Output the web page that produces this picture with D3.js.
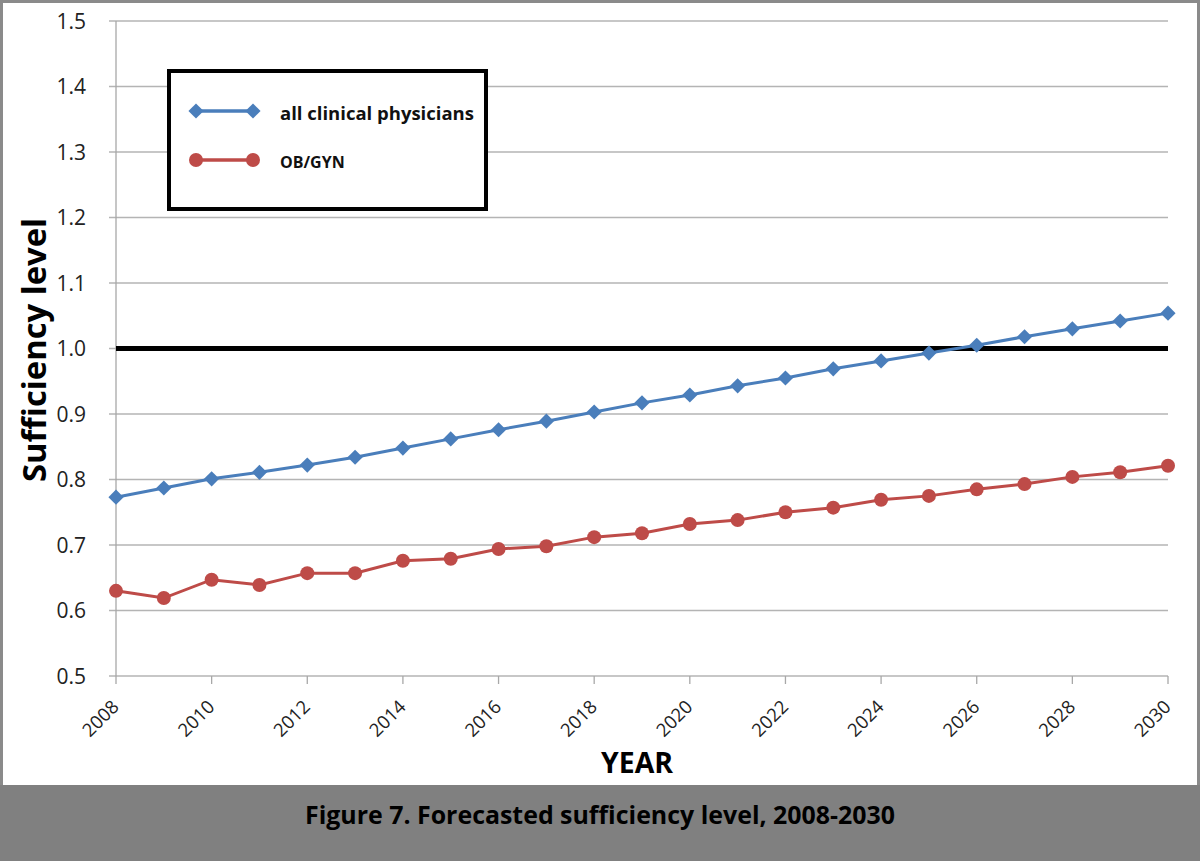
<!DOCTYPE html>
<html><head><meta charset="utf-8">
<script src="https://cdn.jsdelivr.net/npm/d3@7"></script>
<style>body{margin:0;background:#fff}svg{display:block}</style>
</head><body>
<svg id="c" width="1200" height="861"></svg>
<script>
const years = d3.range(2008, 2031);
const allClinical = [0.773,0.787,0.801,0.811,0.822,0.834,0.848,0.862,0.876,0.889,0.903,0.917,0.929,0.943,0.955,0.969,0.981,0.993,1.005,1.018,1.030,1.042,1.054];
const obgyn = [0.630,0.619,0.647,0.639,0.657,0.657,0.676,0.679,0.694,0.698,0.712,0.718,0.732,0.738,0.750,0.757,0.769,0.775,0.785,0.793,0.804,0.811,0.821];
const yTicks = [0.5,0.6,0.7,0.8,0.9,1.0,1.1,1.2,1.3,1.4,1.5];
const xTicks = [2008,2010,2012,2014,2016,2018,2020,2022,2024,2026,2028,2030];
const seriesNames = ["all clinical physicians","OB/GYN"];
const refLevel = 1.0;

const svg = d3.select("#c");
const font = "'Open Sans', 'Noto Sans', sans-serif";
const W = 1200, H = 861;

// outer frame
svg.append("rect").attr("x",1.5).attr("y",1.5).attr("width",W-3).attr("height",H-3).attr("fill","#fff").attr("stroke","#8a8a8a").attr("stroke-width",3);
svg.append("rect").attr("x",0).attr("y",785).attr("width",W).attr("height",H-785).attr("fill","#808080");

const x = d3.scaleLinear().domain([2008,2030]).range([116,1168]);
const y = d3.scaleLinear().domain([0.5,1.5]).range([676,21]);

// gridlines
svg.append("g").selectAll("line").data(yTicks).join("line")
  .attr("x1",109).attr("x2",1168).attr("y1",d=>y(d)).attr("y2",d=>y(d))
  .attr("stroke","#b4b4b4").attr("stroke-width",1.3);

// y axis line
svg.append("line").attr("x1",116).attr("x2",116).attr("y1",y(1.5)).attr("y2",y(0.5)).attr("stroke","#a8a8a8").attr("stroke-width",1.3);

// x ticks
svg.append("g").selectAll("line").data(xTicks).join("line")
  .attr("x1",d=>x(d)).attr("x2",d=>x(d)).attr("y1",676).attr("y2",684)
  .attr("stroke","#a8a8a8").attr("stroke-width",1.3);

// y tick labels
svg.append("g").selectAll("text").data(yTicks).join("text")
  .attr("x",86).attr("y",d=>y(d)).attr("dy","0.36em").attr("text-anchor","end")
  .attr("font-family",font).attr("font-size",21).attr("fill","#222")
  .text(d=>d.toFixed(1));

// x tick labels
svg.append("g").selectAll("text").data(xTicks).join("text")
  .attr("transform",d=>`translate(${x(d)+4},${708}) rotate(-45)`)
  .attr("text-anchor","end")
  .attr("font-family",font).attr("font-size",18.5).attr("fill","#222")
  .text(d=>d);

// reference line
svg.append("line").attr("x1",x(2008)).attr("x2",x(2030)).attr("y1",y(refLevel)).attr("y2",y(refLevel))
  .attr("stroke","#000").attr("stroke-width",5);

const blue = "#4a7ebb", red = "#be4b48";
const line = d3.line().x((d,i)=>x(years[i])).y(d=>y(d));

svg.append("path").datum(obgyn).attr("d",line).attr("fill","none").attr("stroke",red).attr("stroke-width",3);
svg.append("g").selectAll("circle").data(obgyn).join("circle")
  .attr("cx",(d,i)=>x(years[i])).attr("cy",d=>y(d)).attr("r",7).attr("fill",red);

svg.append("path").datum(allClinical).attr("d",line).attr("fill","none").attr("stroke",blue).attr("stroke-width",3);
const diamond = d3.symbol().type(d3.symbolSquare).size(115);
svg.append("g").selectAll("path").data(allClinical).join("path")
  .attr("transform",(d,i)=>`translate(${x(years[i])},${y(d)}) rotate(45)`)
  .attr("d",diamond).attr("fill",blue);

// legend
svg.append("rect").attr("x",169).attr("y",71).attr("width",317).attr("height",138)
  .attr("fill","#fff").attr("stroke","#000").attr("stroke-width",4);
const lg = [{name:seriesNames[0],c:blue,sym:"d",yy:111,fs:18.5},{name:seriesNames[1],c:red,sym:"c",yy:160,fs:16}];
lg.forEach(l=>{
  svg.append("line").attr("x1",196).attr("x2",253).attr("y1",l.yy).attr("y2",l.yy).attr("stroke",l.c).attr("stroke-width",3.5);
  [196,253].forEach(px=>{
    if(l.sym==="d") svg.append("path").attr("transform",`translate(${px},${l.yy}) rotate(45)`).attr("d",diamond).attr("fill",l.c);
    else svg.append("circle").attr("cx",px).attr("cy",l.yy).attr("r",7).attr("fill",l.c);
  });
  svg.append("text").attr("x",280).attr("y",l.yy+2).attr("dy","0.36em")
    .attr("font-family",font).attr("font-weight","bold").attr("font-size",l.fs).attr("fill","#111")
    .text(l.name);
});

// axis titles
svg.append("text").attr("transform","translate(46,350) rotate(-90)").attr("text-anchor","middle")
  .attr("font-family",font).attr("font-weight","bold").attr("font-size",32).attr("fill","#000")
  .attr("textLength",264).attr("lengthAdjust","spacingAndGlyphs")
  .text("Sufficiency level");
svg.append("text").attr("x",637).attr("y",773).attr("text-anchor","middle")
  .attr("font-family",font).attr("font-weight","bold").attr("font-size",28).attr("fill","#000")
  .attr("textLength",72).attr("lengthAdjust","spacingAndGlyphs")
  .text("YEAR");
svg.append("text").attr("x",600).attr("y",824).attr("text-anchor","middle")
  .attr("font-family",font).attr("font-weight","bold").attr("font-size",25).attr("fill","#000")
  .attr("textLength",590).attr("lengthAdjust","spacingAndGlyphs")
  .text("Figure 7. Forecasted sufficiency level, 2008-2030");
</script>
</body></html>
